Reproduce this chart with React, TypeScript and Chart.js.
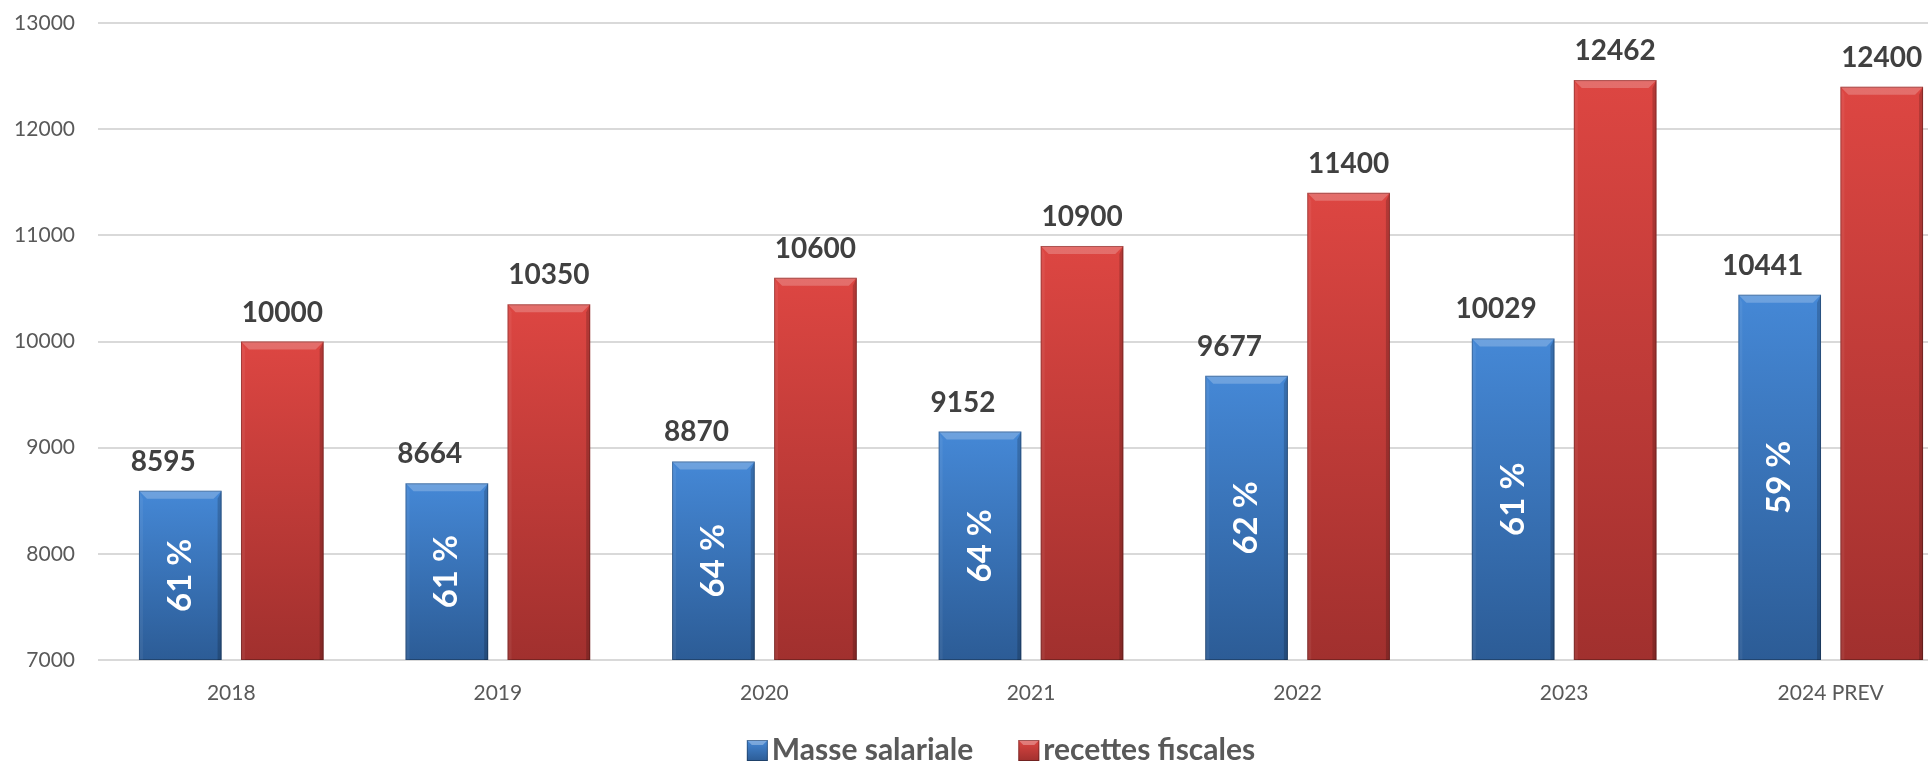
import React, { useEffect, useRef } from "react";
import { Chart, registerables } from "chart.js";

Chart.register(...registerables);

// ---------- data ----------
const categories = ["2018", "2019", "2020", "2021", "2022", "2023", "2024 PREV"];
const masseSalariale = [8595, 8664, 8870, 9152, 9677, 10029, 10441];
const recettesFiscales = [10000, 10350, 10600, 10900, 11400, 12462, 12400];
const partPourcent = [61, 61, 64, 64, 62, 61, 59];
const seriesNames = ["Masse salariale", "recettes fiscales"];
const yMin = 7000;
const yMax = 13000;
const yStep = 1000;

// ---------- layout / style ----------
const VIEW_W = 1928;
const VIEW_H = 761;
const CANVAS_W = 1964;
const LEGEND_CENTER_X = 1001;
const FONT = "Lato, 'Open Sans', sans-serif";
const BLUE_TOP = "#4588d6";
const BLUE_BOTTOM = "#2c5c96";
const BLUE_MID = "#3a76c2";
const RED_TOP = "#dd4642";
const RED_BOTTOM = "#a1302e";
const RED_MID = "#cc3f3b";

function gradientFill(top: string, bottom: string, mid: string) {
  return (c: any) => {
    const chart = c.chart;
    const area = chart.chartArea;
    if (!area || c.raw == null) return mid;
    const y = chart.scales.y.getPixelForValue(c.raw);
    const g = chart.ctx.createLinearGradient(0, y, 0, area.bottom);
    g.addColorStop(0, top);
    g.addColorStop(1, bottom);
    return g;
  };
}

const bevelAndLabels = {
  id: "bevelAndLabels",
  afterDatasetsDraw(chart: any) {
    const ctx = chart.ctx;
    const area = chart.chartArea;
    ctx.save();
    chart.data.datasets.forEach((ds: any, di: number) => {
      const meta = chart.getDatasetMeta(di);
      meta.data.forEach((bar: any, i: number) => {
        const p = bar.getProps(["x", "y", "base", "width"], true);
        const x = p.x;
        const y = p.y;
        const width = p.width;
        const base = Math.min(p.base, area.bottom);
        const l = x - width / 2;
        const r = x + width / 2;
        const b = 8;
        const s = 4;
        // top bevel
        ctx.beginPath();
        ctx.moveTo(l, y);
        ctx.lineTo(r, y);
        ctx.lineTo(r - b, y + b);
        ctx.lineTo(l + b, y + b);
        ctx.closePath();
        ctx.fillStyle = "rgba(255,255,255,0.22)";
        ctx.fill();
        // left bevel
        ctx.beginPath();
        ctx.moveTo(l, y);
        ctx.lineTo(l + s, y + b);
        ctx.lineTo(l + s, base);
        ctx.lineTo(l, base);
        ctx.closePath();
        ctx.fillStyle = "rgba(255,255,255,0.06)";
        ctx.fill();
        // right bevel
        ctx.beginPath();
        ctx.moveTo(r, y);
        ctx.lineTo(r - s, y + b);
        ctx.lineTo(r - s, base);
        ctx.lineTo(r, base);
        ctx.closePath();
        ctx.fillStyle = "rgba(0,0,0,0.18)";
        ctx.fill();
        // outline
        ctx.strokeStyle = "rgba(0,0,0,0.25)";
        ctx.lineWidth = 1;
        ctx.strokeRect(l + 0.5, y + 0.5, width - 1, base - y - 1);

        // value label
        ctx.font = `bold 28px ${FONT}`;
        ctx.fillStyle = "#404040";
        ctx.textAlign = "center";
        ctx.textBaseline = "alphabetic";
        const shift = di === 0 ? -17 : 0;
        ctx.fillText(String(ds.data[i]), x + shift, y - 20);

        // percent label inside blue bars
        if (di === 0) {
          ctx.save();
          ctx.translate(x, (y + base) / 2);
          ctx.rotate(-Math.PI / 2);
          ctx.font = `bold 33px ${FONT}`;
          ctx.fillStyle = "#ffffff";
          ctx.textAlign = "center";
          ctx.textBaseline = "middle";
          ctx.fillText(`${partPourcent[i]} %`, 0, 0);
          ctx.restore();
        }
      });
    });
    ctx.restore();
  },
};

const bottomLegend = {
  id: "bottomLegend",
  afterDraw(chart: any) {
    const ctx = chart.ctx;
    ctx.save();
    ctx.font = `bold 30px ${FONT}`;
    const box = 21;
    const gap = 4;
    const itemGap = 45;
    const widths = seriesNames.map((n) => ctx.measureText(n).width);
    const total = widths.reduce((a, w) => a + box + gap + w, 0) + itemGap * (seriesNames.length - 1);
    let x = LEGEND_CENTER_X - total / 2;
    const boxTop = 740;
    const baseline = 760;
    const colors = [
      [BLUE_TOP, BLUE_BOTTOM],
      [RED_TOP, RED_BOTTOM],
    ];
    seriesNames.forEach((name, i) => {
      const g = ctx.createLinearGradient(0, boxTop, 0, boxTop + box);
      g.addColorStop(0, colors[i][0]);
      g.addColorStop(1, colors[i][1]);
      ctx.fillStyle = g;
      ctx.fillRect(x, boxTop, box, box);
      ctx.beginPath();
      ctx.moveTo(x, boxTop);
      ctx.lineTo(x + box, boxTop);
      ctx.lineTo(x + box - 5, boxTop + 5);
      ctx.lineTo(x + 5, boxTop + 5);
      ctx.closePath();
      ctx.fillStyle = "rgba(255,255,255,0.3)";
      ctx.fill();
      ctx.strokeStyle = "rgba(0,0,0,0.3)";
      ctx.lineWidth = 1;
      ctx.strokeRect(x + 0.5, boxTop + 0.5, box - 1, box - 1);
      x += box + gap;
      ctx.fillStyle = "#595959";
      ctx.textAlign = "left";
      ctx.textBaseline = "alphabetic";
      ctx.fillText(name, x, baseline);
      x += widths[i] + itemGap;
    });
    ctx.restore();
  },
};

export default function App() {
  const ref = useRef<HTMLCanvasElement>(null);

  useEffect(() => {
    if (!ref.current) return;
    let alive = true;
    const chart = new Chart(ref.current, {
      type: "bar",
      data: {
        labels: categories,
        datasets: [
          {
            label: seriesNames[0],
            data: masseSalariale,
            backgroundColor: gradientFill(BLUE_TOP, BLUE_BOTTOM, BLUE_MID),
            borderWidth: 0,
            categoryPercentage: 0.7655,
            barPercentage: 0.81,
          },
          {
            label: seriesNames[1],
            data: recettesFiscales,
            backgroundColor: gradientFill(RED_TOP, RED_BOTTOM, RED_MID),
            borderWidth: 0,
            categoryPercentage: 0.7655,
            barPercentage: 0.81,
          },
        ],
      },
      options: {
        responsive: false,
        animation: false,
        devicePixelRatio: 1,
        layout: { padding: { top: 23, left: 0, right: 0, bottom: 0 } },
        plugins: {
          legend: { display: false },
          tooltip: { enabled: false },
          title: { display: false },
        },
        scales: {
          x: {
            grid: { display: false, drawTicks: false },
            border: { display: false },
            ticks: {
              color: "#595959",
              font: { family: FONT, size: 21 },
              padding: 21,
              maxRotation: 0,
              autoSkip: false,
            },
            afterFit: (scale: any) => {
              scale.height = 101;
            },
          },
          y: {
            min: yMin,
            max: yMax,
            grid: { color: "#d9d9d9", lineWidth: 2, drawTicks: false },
            border: { display: false },
            ticks: {
              stepSize: yStep,
              color: "#595959",
              font: { family: FONT, size: 21 },
              padding: 23,
              callback: (v: any) => String(v),
            },
            afterFit: (scale: any) => {
              scale.width = 98;
              scale.paddingTop = 0;
              scale.paddingBottom = 0;
            },
          },
        },
      },
      plugins: [bevelAndLabels, bottomLegend],
    });
    if ((document as any).fonts && (document as any).fonts.load) {
      Promise.all([
        (document as any).fonts.load(`bold 28px Lato`),
        (document as any).fonts.load(`21px Lato`),
      ])
        .then(() => {
          if (alive) chart.update();
        })
        .catch(() => {});
    }
    return () => {
      alive = false;
      chart.destroy();
    };
  }, []);

  return (
    <div
      style={{
        position: "fixed",
        left: 0,
        top: 0,
        width: VIEW_W,
        height: VIEW_H,
        overflow: "hidden",
        background: "#ffffff",
      }}
    >
      <canvas ref={ref} width={CANVAS_W} height={VIEW_H} style={{ display: "block" }} />
    </div>
  );
}
